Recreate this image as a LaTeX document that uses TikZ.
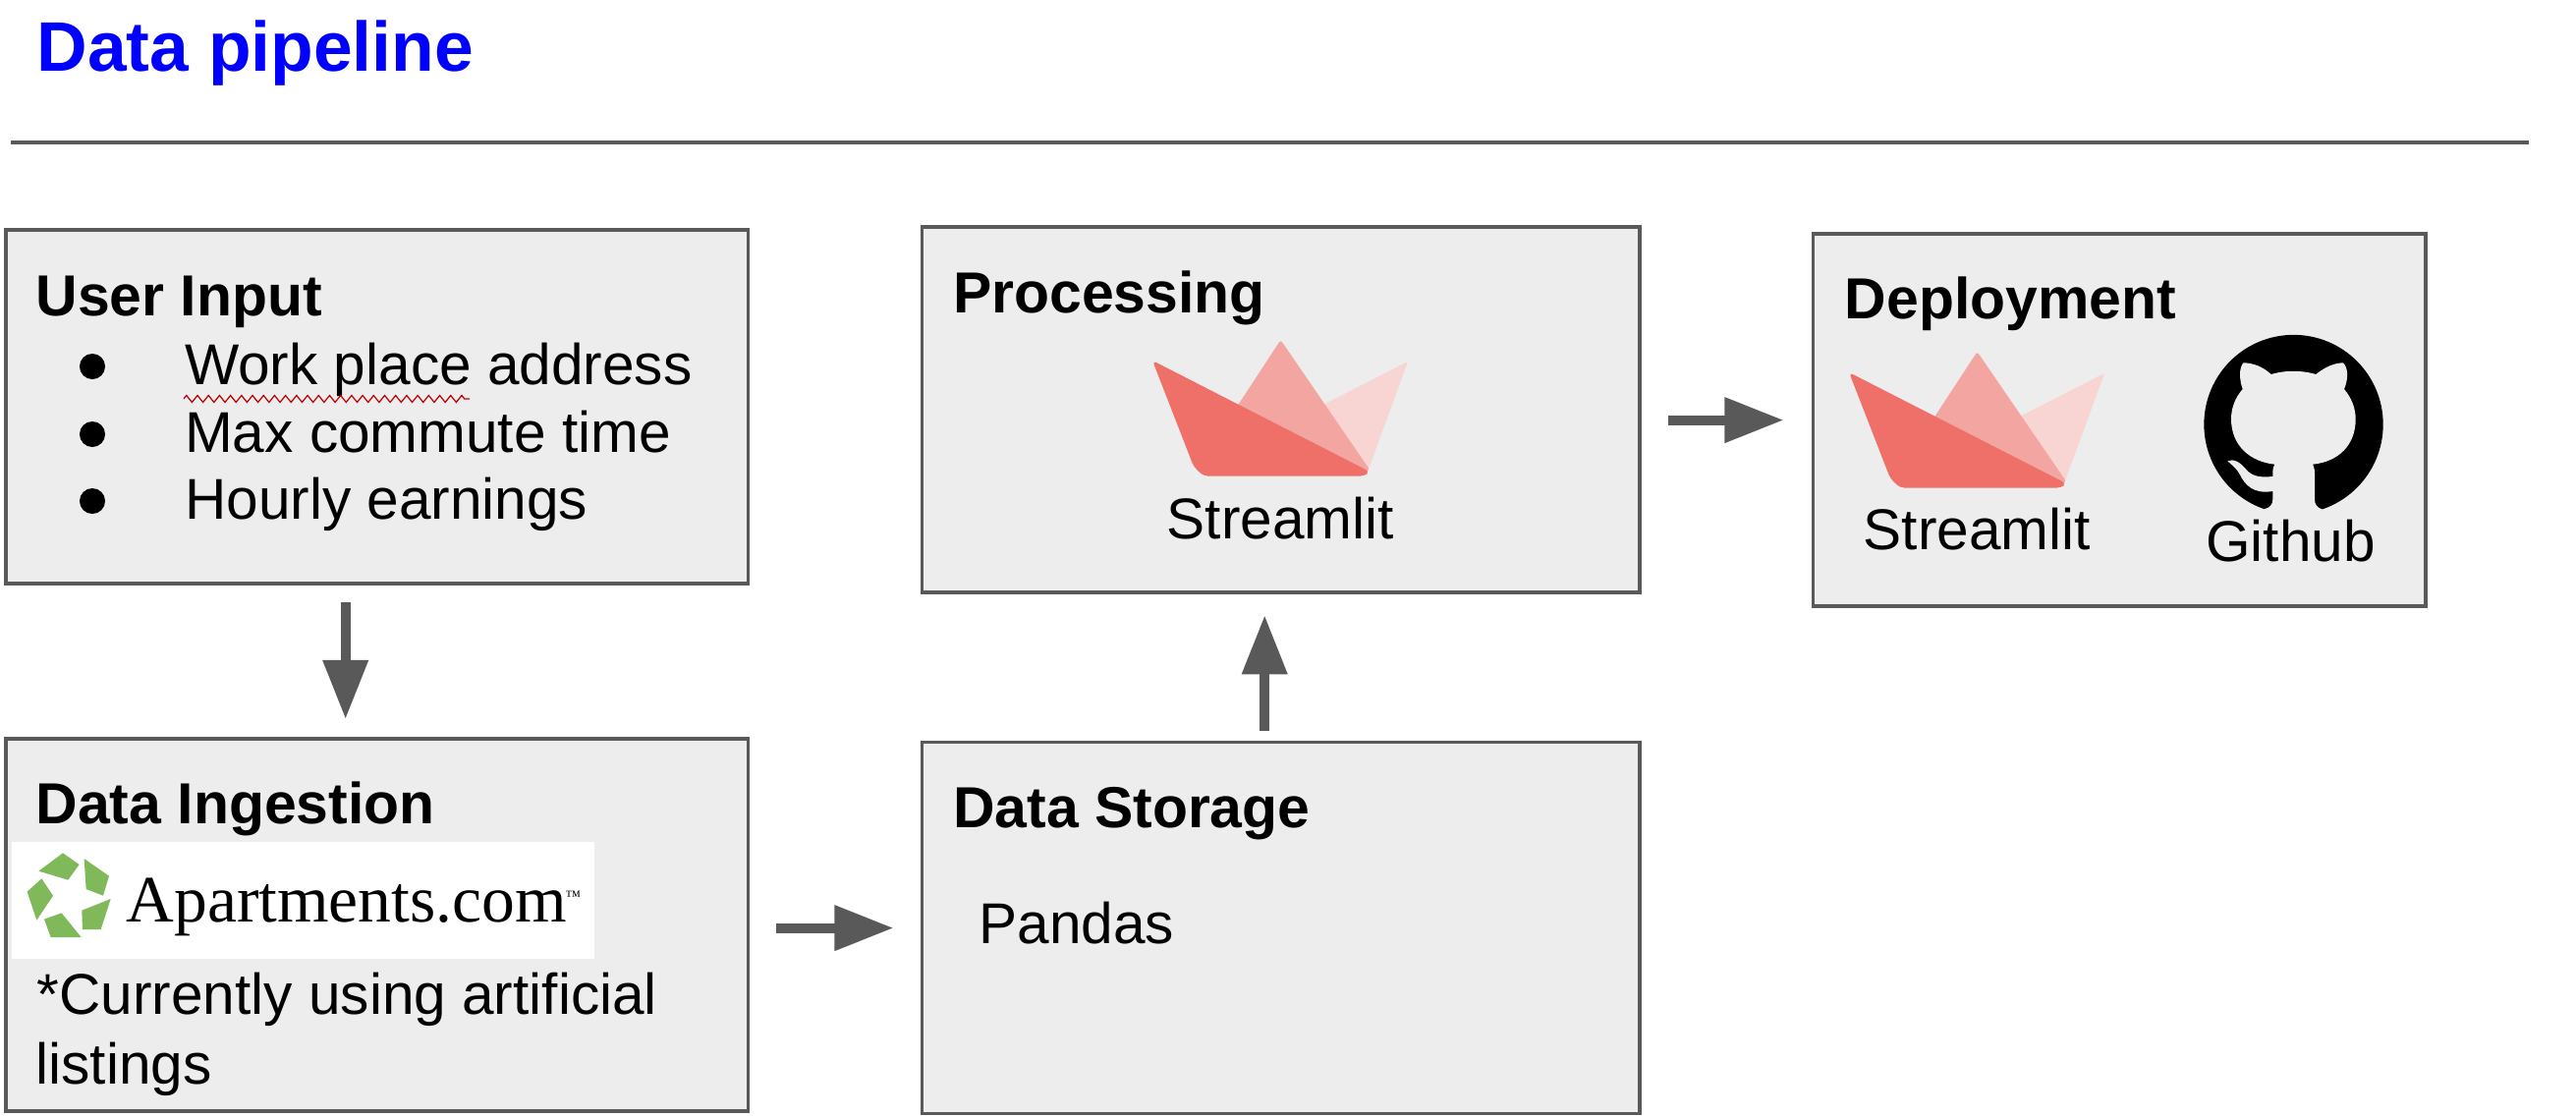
\documentclass[tikz,border=0pt]{standalone}
\usepackage{fontspec}
\setmainfont{Liberation Sans}
\newfontfamily\logofont{Liberation Serif}
\usepackage{xcolor}
\usepackage{tikz}
\usetikzlibrary{positioning,calc,arrows.meta,decorations.pathmorphing}

\definecolor{boxgrey}{HTML}{EDEDED}
\definecolor{edgegrey}{HTML}{595959}
\definecolor{stdark}{HTML}{EE7068}
\definecolor{stmid}{HTML}{F3A6A1}
\definecolor{stlight}{HTML}{F8D4D2}
\definecolor{aptgreen}{HTML}{7FB95A}

\tikzset{
	stage/.style={draw=edgegrey, fill=boxgrey, line width=0.035cm, inner sep=0, outer sep=0, anchor=north west},
	head/.style={anchor=base west, inner sep=0, font=\fontsize{16.75}{20}\selectfont\bfseries},
	body/.style={anchor=base west, inner sep=0, font=\fontsize{16.65}{20}\selectfont},
	flow/.style={draw=edgegrey, line width=0.1cm, -{Triangle[length=0.6cm, width=0.44cm]}},
	stboat/.pic={
		\fill[stlight, rounded corners=0.8pt] (172,42) -- (258,-2) -- (217,110) -- cycle;
		\fill[stmid, rounded corners=0.8pt] (84,44) -- (128.5,-24) -- (219,108) -- (212,114) -- cycle;
		\fill[stdark, rounded corners=1.2pt] (-2,-3) -- (219,110) -- (214,114.5) -- (50,114.5) -- (40,105) -- cycle;
	}
}

\begin{document}
\begin{tikzpicture}[x=0.01cm, y=-0.01cm]
	\useasboundingbox (0,0) rectangle (2622,1136);

	% title
	\node[anchor=base west, inner sep=0, text=blue, font=\fontsize{20.3}{24}\selectfont\bfseries] (title) at (37,72) {Data pipeline};
	\coordinate (ruleleft) at (11,145);
	\coordinate (ruleright) at (2574,145);
	\draw[edgegrey, line width=0.035cm] (ruleleft) -- (ruleright);

	% the five boxes
	\node[stage, minimum width=7.55cm, minimum height=3.60cm] (input) at (6,234) {};
	\node[stage, minimum width=7.55cm, minimum height=3.79cm] (ingest) at (6,752) {};
	\node[stage, minimum width=7.30cm, minimum height=3.72cm] (proc) at (938.5,231) {};
	\node[stage, minimum width=7.30cm, minimum height=3.78cm] (store) at (938.5,755.5) {};
	\node[stage, minimum width=6.23cm, minimum height=3.79cm] (deploy) at (1845.5,238) {};

	% user input
	\node[head] (inputhead) at (36,321) {User Input};
	\foreach \ypos/\itemtext in {391/Work place address, 460/Max commute time, 528/Hourly earnings} {
		\node[circle, fill=black, inner sep=0, minimum size=0.26cm] (dot\ypos) at (94,\ypos-18) {};
		\node[body] (item\ypos) at (187.5,\ypos) {\itemtext};
	}
	\coordinate (wavel) at (187,406);
	\coordinate (waver) at (478,406);
	\draw[red!75!black, line width=0.35pt, decorate, decoration={zigzag, segment length=0.112cm, amplitude=0.035cm}] (wavel) -- (waver);

	% data ingestion
	\node[head] (ingesthead) at (36,838) {Data Ingestion};
	\fill[white] (12,857) rectangle (605,976);
	\begin{scope}[shift={(10,860)}, scale=1/3]
		\fill[aptgreen] (162,25) -- (212,60) -- (178,107) -- (88,80) -- cycle;
		\fill[aptgreen] (227,42) -- (303,95) -- (285,155) -- (233,135) -- cycle;
		\fill[aptgreen] (308,165) -- (278,258) -- (222,258) -- (220,200) -- cycle;
		\fill[aptgreen] (105,227) -- (158,208) -- (218,282) -- (125,282) -- cycle;
		\fill[aptgreen] (97,103) -- (132,155) -- (82,230) -- (53,143) -- cycle;
	\end{scope}
	\node[anchor=base west, inner sep=0, text=black, font=\logofont\fontsize{19.2}{22}\selectfont] (aptname) at (128,938) {Apartments.com};
	\node[anchor=base west, inner sep=0, text=black, font=\logofont\fontsize{4.5}{5}\selectfont] (aptmark) at (575,917) {™};
	\node[body] (ingestnote) at (37,1032) {*Currently using artificial};
	\node[body] (ingestnotetwo) at (36,1103) {listings};

	% data storage
	\node[head] (storehead) at (969.5,842) {Data Storage};
	\node[body] (pandas) at (996,960) {Pandas};

	% processing
	\node[head] (prochead) at (969.5,318) {Processing};
	\pic at (1175,370) {stboat};
	\node[body] (procname) at (1187,548) {Streamlit};

	% deployment
	\node[head] (deployhead) at (1877,324) {Deployment};
	\pic at (1884,382) {stboat};
	\node[body] (deployname) at (1896,559) {Streamlit};
	\begin{scope}[shift={(2230,330)}, scale=1/3]
		\fill[black] (313.5,306) circle (273.5);
		\fill[boxgrey] (245,153) .. controls (290,140) and (335,140) .. (382,153)
			.. controls (410,130) and (440,118) .. (465,118)
			.. controls (482,135) and (480,170) .. (468,198)
			.. controls (490,225) and (503,255) .. (503,290)
			.. controls (503,370) and (450,420) .. (372,428)
			.. controls (378,440) and (378,450) .. (378,465)
			-- (378,535) .. controls (378,550) and (385,560) .. (400,565)
			-- (425,590) -- (205,590) -- (225,564)
			.. controls (240,562) and (250,550) .. (250,535)
			-- (250,510)
			.. controls (190,520) and (165,490) .. (150,460)
			.. controls (140,440) and (125,430) .. (112,418)
			.. controls (130,410) and (150,420) .. (170,445)
			.. controls (190,468) and (220,468) .. (250,465)
			-- (250,450) .. controls (250,440) and (252,435) .. (256,428)
			.. controls (180,420) and (123,370) .. (123,290)
			.. controls (123,255) and (135,225) .. (158,198)
			.. controls (148,170) and (146,135) .. (160,118)
			.. controls (190,118) and (220,130) .. (245,153) -- cycle;
	\end{scope}
	\node[body] (hubname) at (2244.5,571) {Github};

	% arrows between boxes
	\draw[flow, shorten <=0.19cm, shorten >=0.20cm] ([xshift=-0.32cm]input.south) -- ([xshift=-0.32cm]ingest.north);
	\draw[flow, shorten <=0.29cm, shorten >=0.29cm] (ingest.east |- store.west) -- (store.west);
	\draw[flow, shorten <=0.12cm, shorten >=0.23cm] ([xshift=-0.165cm]store.north) -- ([xshift=-0.165cm]proc.south);
	\draw[flow, shorten <=0.29cm, shorten >=0.30cm] (proc.east |- deploy.west) -- (deploy.west);
\end{tikzpicture}
\end{document}
